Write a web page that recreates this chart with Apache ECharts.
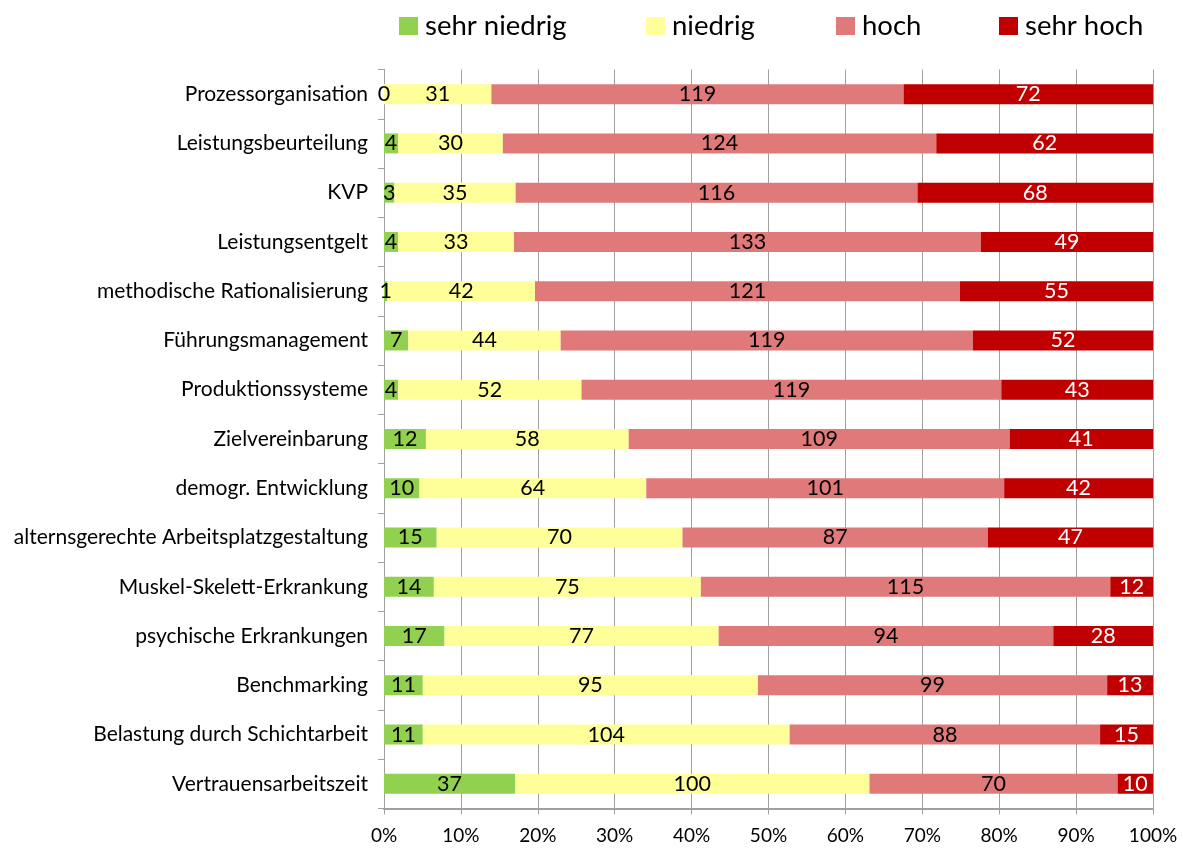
<!DOCTYPE html>
<html><head><meta charset="utf-8">
<script src="https://cdn.jsdelivr.net/npm/echarts@6/dist/echarts.min.js"></script>
<style>html,body{margin:0;padding:0;background:#fff}#c{width:1183px;height:852px}</style>
</head><body><div id="c"></div>
<script>
const categories = ["Prozessorganisation","Leistungsbeurteilung","KVP","Leistungsentgelt","methodische Rationalisierung","Führungsmanagement","Produktionssysteme","Zielvereinbarung","demogr. Entwicklung","alternsgerechte Arbeitsplatzgestaltung","Muskel-Skelett-Erkrankung","psychische Erkrankungen","Benchmarking","Belastung durch Schichtarbeit","Vertrauensarbeitszeit"];
const sehrNiedrig = [0,4,3,4,1,7,4,12,10,15,14,17,11,11,37];
const niedrig     = [31,30,35,33,42,44,52,58,64,70,75,77,95,104,100];
const hoch        = [119,124,116,133,121,119,119,109,101,87,115,94,99,88,70];
const sehrHoch    = [72,62,68,49,55,52,43,41,42,47,12,28,13,15,10];
const seriesNames = ["sehr niedrig","niedrig","hoch","sehr hoch"];
const seriesColors = ["#92D050","#FFFF99","#E07A7A","#C00000"];
const labelColors = ["#000","#000","#000","#fff"];
const tickLabels = ["0%","10%","20%","30%","40%","50%","60%","70%","80%","90%","100%"];

const raw = [sehrNiedrig, niedrig, hoch, sehrHoch];
const totals = categories.map((_, i) => raw.reduce((s, a) => s + a[i], 0));
const FONT = "Lato";

const series = raw.map((arr, k) => ({
  name: seriesNames[k],
  type: 'bar',
  stack: 'total',
  barWidth: 20,
  itemStyle: { color: seriesColors[k] },
  label: {
    show: true, position: 'inside', color: labelColors[k],
    fontFamily: FONT, fontSize: 21.5,
    formatter: p => String(arr[p.dataIndex])
  },
  data: arr.map((v, i) => v / totals[i] * 100)
}));

const legendLefts = [394, 641, 831, 994];
const legends = seriesNames.map((n, k) => ({
  data: [n], left: legendLefts[k], top: 6,
  itemWidth: 19, itemHeight: 18, itemGap: 0,
  icon: 'rect',
  textStyle: { fontFamily: FONT, fontSize: 27.5, lineHeight: 30, color: '#000', padding: [0,0,0,2] },
  selectedMode: false
}));

const chart = echarts.init(document.getElementById('c'), null, { renderer: 'canvas' });
chart.setOption({
  animation: false,
  backgroundColor: '#fff',
  legend: legends,
  grid: { left: 384, right: 30, top: 69.5, bottom: 43.5, containLabel: false },
  xAxis: {
    type: 'value', min: 0, max: 100, interval: 10,
    axisLine: { show: true, lineStyle: { color: '#A0A0A0', width: 2 } },
    axisTick: { show: true, length: 6, lineStyle: { color: '#A0A0A0', width: 1 } },
    splitLine: { show: true, lineStyle: { color: '#A0A0A0', width: 1 } },
    axisLabel: { fontFamily: FONT, fontSize: 19, color: '#000', margin: 18,
      formatter: v => tickLabels[Math.round(v / 10)] }
  },
  yAxis: {
    type: 'category', data: categories, inverse: true,
    axisLine: { show: true, lineStyle: { color: '#A0A0A0', width: 1 } },
    axisTick: { show: true, length: 6, lineStyle: { color: '#A0A0A0' } },
    axisLabel: { fontFamily: FONT, fontSize: 21, color: '#000', margin: 16 }
  },
  series: series
});
</script></body></html>
